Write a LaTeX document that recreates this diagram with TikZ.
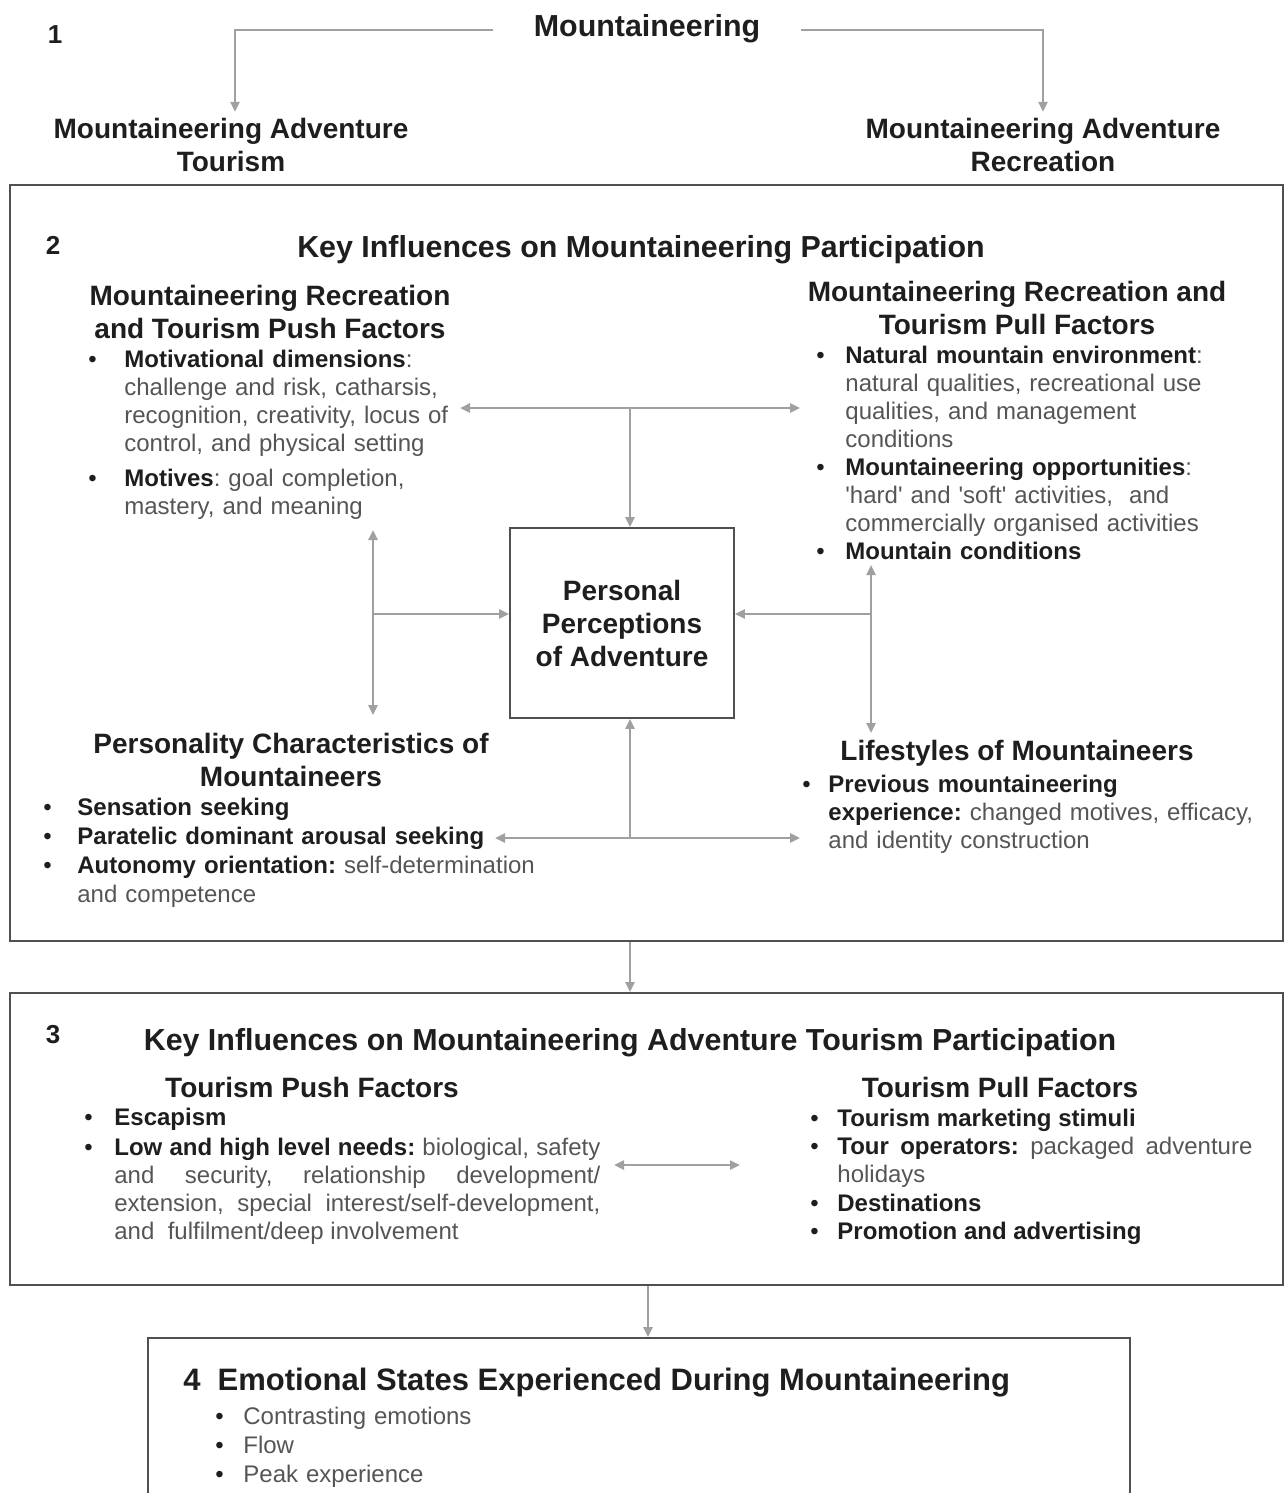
\documentclass[tikz,border=0pt]{standalone}
\usepackage{fontspec}
\setmainfont{Liberation Sans}
\usepackage{tikz}
\usetikzlibrary{arrows.meta}
\definecolor{linegray}{RGB}{160,160,160}
\definecolor{boxgray}{RGB}{80,80,80}
\definecolor{headgray}{RGB}{30,30,30}
\definecolor{textgray}{RGB}{85,85,85}
\frenchspacing
\newcommand{\kw}[1]{{\bfseries\color{headgray}#1}}
% first bullet of a list (no \par), then the following ones
\newcommand{\itmx}[1]{\noindent\hangindent=#1\hangafter=1\makebox[#1][l]{\color{headgray}\textbullet}}
\newcommand{\itm}[1]{\par\itmx{#1}}

\begin{document}
\begin{tikzpicture}[x=0.5pt, y=-0.5pt,
  hd/.style={font=\fontsize{14}{16.5}\selectfont\bfseries, text=headgray, align=center, inner sep=0pt},
  ttl/.style={font=\fontsize{15.2}{18}\selectfont\bfseries, text=headgray, inner sep=0pt},
  num/.style={font=\fontsize{13}{15}\selectfont\bfseries, text=headgray, inner sep=0pt},
  lst/.style={font=\fontsize{12}{14}\selectfont, text=textgray, align=left, inner sep=0pt, anchor=base west, text width=#1},
  frame/.style={draw=boxgray, line width=0.9pt, inner sep=0pt},
  arr/.style={draw=linegray, line width=1.2pt, -{Triangle[length=5pt,width=4.5pt]}},
  dbl/.style={draw=linegray, line width=1.2pt, {Triangle[length=5pt,width=4.5pt]}-{Triangle[length=5pt,width=4.5pt]}}
]
\useasboundingbox (0,0) rectangle (1285,1493);

% 1 MOUNTAINEERING
\node[num] (n1) at (55,35) {1};
\node[ttl, inner xsep=20pt] (mount) at (647,29) {Mountaineering};
\node[hd, inner ysep=3pt] (advT) at (231,145) {Mountaineering Adventure\\Tourism};
\node[hd, inner ysep=3pt] (advR) at (1043,145) {Mountaineering Adventure\\Recreation};

\draw[arr] ([yshift=-0.5pt]mount.west) -| ([xshift=2pt]advT.north);
\draw[arr] ([yshift=-0.5pt]mount.east) -| (advR.north);

% 2 KEY INFLUENCES
\node[frame, minimum width=636.5pt, minimum height=378pt] (sec2) at (646.5,563) {};
\node[num] (n2) at (53,245) {2};
\node[ttl] (key2) at (641,250) {Key Influences on Mountaineering Participation};
% push factors
\node[hd] (pushH) at (270,312) {Mountaineering Recreation\\and Tourism Push Factors};
\node[lst=200pt] (pushL) at (88,367) {\setlength{\parskip}{3.5pt}%
  \itmx{18pt}\kw{Motivational dimensions}:\newline challenge and risk, catharsis,\newline recognition, creativity, locus of\newline control, and physical setting
  \itm{18pt}\kw{Motives}: goal completion,\newline mastery, and meaning\par};
% pull factors
\node[hd] (pullH) at (1017,308) {Mountaineering Recreation and\\Tourism Pull Factors};
\node[lst=230pt] (pullL) at (816,363) {%
  \itmx{14.5pt}\kw{Natural mountain environment}:\newline natural qualities, recreational use\newline qualities, and management\newline conditions
  \itm{14.5pt}\kw{Mountaineering opportunities}:\newline \textquotesingle hard\textquotesingle{} and \textquotesingle soft\textquotesingle{} activities,~ and\newline commercially organised activities
  \itm{14.5pt}\kw{Mountain conditions}\par};
% personal perceptions
\node[frame, minimum width=112pt, minimum height=95pt, font=\fontsize{14}{16.5}\selectfont\bfseries, text=headgray, align=center] (persp) at (622,623) {Personal\\Perceptions\\of Adventure};
% personality
\node[hd] (persH) at (291,760) {Personality Characteristics of\\Mountaineers};
\node[lst=260pt] (persL) at (43,815) {\fontsize{12}{14.5}\selectfont
  \itmx{17pt}\kw{Sensation seeking}
  \itm{17pt}\kw{Paratelic dominant arousal seeking}
  \itm{17pt}\kw{Autonomy orientation:} self-determination\newline and competence\par};
% lifestyles
\node[hd] (lifeH) at (1017,753) {Lifestyles of Mountaineers};
\node[lst=240pt] (lifeL) at (802,792) {%
  \itmx{13pt}\kw{Previous mountaineering\newline experience:} changed motives, efficacy,\newline and identity construction\par};

\coordinate (topL) at (460,408);
\coordinate (topR) at (800,408);
\coordinate (topMid) at (630,408);
\coordinate (lefT) at (373,530);
\coordinate (lefB) at (373,715);
\coordinate (lefMid) at (373,614);
\coordinate (rigT) at (871,565);
\coordinate (rigB) at (871,733);
\coordinate (rigMid) at (871,614);
\coordinate (botL) at (495,838);
\coordinate (botR) at (800,838);
\coordinate (botMid) at (630,838);

\draw[dbl] (topL) -- (topR);
\draw[arr] (topMid) -- (topMid |- persp.north);
\draw[dbl] (lefT) -- (lefB);
\draw[arr] (lefMid) -- (lefMid -| persp.west);
\draw[dbl] (rigT) -- (rigB);
\draw[arr] (rigMid) -- (rigMid -| persp.east);
\draw[dbl] (botL) -- (botR);
\draw[arr] (botMid) -- (botMid |- persp.south);

% 3 ADVENTURE TOURISM
\node[frame, minimum width=636.5pt, minimum height=146pt] (sec3) at (646.5,1139) {};
\node[num] (n3) at (53,1035) {3};
\node[ttl] (key3) at (630,1043) {Key Influences on Mountaineering Adventure Tourism Participation};
\node[hd] (tpushH) at (312,1087) {Tourism Push Factors};
\node[lst=258pt, align=justify] (tpushL) at (84,1125) {\sloppy\hyphenpenalty=10000%
  \itmx{15pt}\kw{Escapism}\par\vspace{1pt}%
  \itmx{15pt}\kw{Low and high level needs:} biological, safety\linebreak and security, relationship development/\linebreak extension, special interest/self-development,\linebreak and~ fulfilment/deep involvement\par};
\node[hd] (tpullH) at (1000,1087) {Tourism Pull Factors};
\node[lst=221pt, align=justify] (tpullL) at (810,1126) {\sloppy\hyphenpenalty=10000\fontsize{12}{14.2}\selectfont
  \itmx{13.5pt}\kw{Tourism marketing stimuli}
  \itm{13.5pt}\kw{Tour operators:} packaged adventure\linebreak holidays
  \itm{13.5pt}\kw{Destinations}
  \itm{13.5pt}\kw{Promotion and advertising}\par};

\coordinate (midL) at (614,1165);
\coordinate (midR) at (740,1165);
\draw[dbl] (midL) -- (midR);

\draw[arr] (sec2.south -| topMid) -- (sec3.north -| topMid);

% 4 EMOTIONAL STATES
\node[frame, minimum width=491pt, minimum height=95pt, anchor=north] (sec4) at (639,1337) {};
\node[ttl, anchor=west, font=\fontsize{15.5}{18}\selectfont\bfseries] (emoT) at (183,1383) {4\hspace{8.5pt}Emotional States Experienced During Mountaineering};
\node[lst=200pt] (emoL) at (215,1424) {\fontsize{12}{14.5}\selectfont
  \itmx{14pt}Contrasting emotions
  \itm{14pt}Flow
  \itm{14pt}Peak experience\par};

\draw[arr] ([xshift=4.5pt]sec3.south -| sec4.north) -- ([xshift=4.5pt]sec4.north);
\end{tikzpicture}
\end{document}
